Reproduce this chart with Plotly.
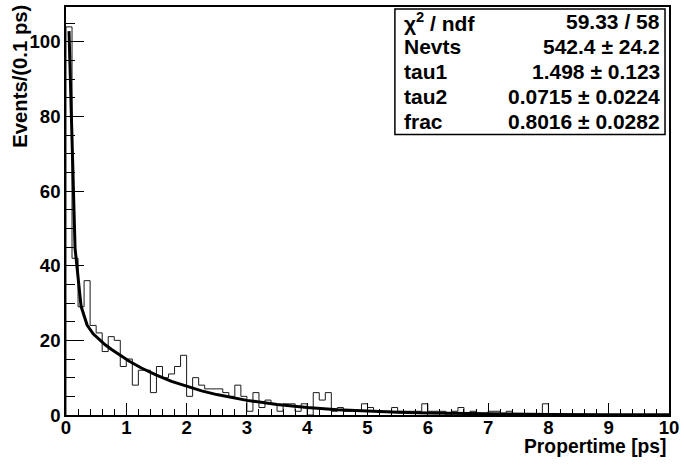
import numpy as np
import plotly.graph_objects as go

# ---- data ----
bin_width = 0.1
n_bins = 100
counts = [104, 42, 29, 36, 24, 22, 17, 21, 20, 13,
          15, 8, 12, 12, 6, 13, 10, 11, 13, 16,
          5, 10, 8, 7, 7, 7, 6, 5, 8, 5,
          1, 6, 2, 4, 3, 1, 3, 3, 1, 3,
          0, 6, 4, 6, 1, 2, 1, 1, 1, 3,
          2, 1, 1, 1, 2, 1, 1, 1, 1, 3,
          1, 1, 1, 0, 1, 2, 0, 1, 0, 0,
          1, 1, 0, 1, 0, 0, 0, 0, 0, 3,
          0, 0, 0, 0, 0, 0, 0, 0, 0, 0,
          0, 0, 0, 0, 0, 0, 0, 0, 0, 0]

fit_t = [0.05, 0.15, 0.25, 0.35, 0.45, 0.55, 0.65, 0.75, 0.85, 0.95,
         1.05, 1.25, 1.5, 1.75, 2.0, 2.25, 2.5, 2.75, 3.0, 3.5,
         4.0, 4.5, 5.0, 5.5, 6.0, 7.0, 8.0, 9.0, 10.0]
fit_y = [102.86, 44.73, 29.12, 24.10, 21.77, 20.17, 18.82, 17.60, 16.46, 15.39,
         14.40, 12.60, 10.66, 9.02, 7.64, 6.46, 5.47, 4.63, 3.92, 2.81,
         2.01, 1.44, 1.03, 0.738, 0.529, 0.271, 0.139, 0.0714, 0.0366]

stat_labels = ["\u03c7<sup>2</sup> / ndf", "Nevts", "tau1", "tau2", "frac"]
stat_values = ["59.33 / 58", "542.4 \u00b1 24.2", "1.498 \u00b1 0.123",
               "0.0715 \u00b1 0.0224", "0.8016 \u00b1 0.0282"]

x_title = "Propertime [ps]"
y_title = "Events/(0.1 ps)"

# ---- layout geometry (pixels) ----
W, H = 684, 466
L, R, T, B = 66, 13, 5, 51
PW, PH = W - L - R, H - T - B
def px(x):
    return (x - L) / PW
def py(y):
    return (T + PH - y) / PH

FONT = "Liberation Sans, Arial, Helvetica, sans-serif"
FS = 18.6

edges = list(np.round(np.arange(n_bins) * bin_width, 10))
hx = [0.0] + edges + [n_bins * bin_width]
hy = [0] + counts + [0]

fig = go.Figure()
fig.add_trace(go.Scatter(x=hx, y=hy, mode="lines", line=dict(shape="hv", color="#1a1a1a", width=1),
                         hoverinfo="skip", showlegend=False))
fig.add_trace(go.Scatter(x=fit_t, y=fit_y, mode="lines", line=dict(color="black", width=3),
                         hoverinfo="skip", showlegend=False))

axfont = dict(family=FONT, size=FS, color="black", weight="bold")
fig.update_layout(
    width=W, height=H, margin=dict(l=L, r=R, t=T, b=B, pad=0),
    paper_bgcolor="white", plot_bgcolor="white", showlegend=False,
    xaxis=dict(range=[0, 10], tickmode="linear", tick0=0, dtick=1, ticks="inside", ticklen=12,
               tickwidth=1, tickcolor="black", showgrid=False, zeroline=False,
               showline=True, linecolor="black", linewidth=1.5, mirror=True,
               tickfont=axfont, ticklabelstandoff=-5,
               minor=dict(dtick=0.2, tick0=0, ticks="inside", ticklen=6, tickwidth=1,
                          tickcolor="black", showgrid=False)),
    yaxis=dict(range=[0, PH / 3.75], tickmode="linear", tick0=0, dtick=20, ticks="inside", ticklen=18,
               tickwidth=1, tickcolor="black", showgrid=False, zeroline=False,
               showline=True, linecolor="black", linewidth=1.5, mirror=True,
               tickfont=axfont,
               minor=dict(dtick=5, tick0=0, ticks="inside", ticklen=9, tickwidth=1,
                          tickcolor="black", showgrid=False)),
)

# axis titles
fig.add_annotation(text=x_title, xref="paper", yref="paper", x=1.0, y=py(446.5),
                   xanchor="right", yanchor="middle", showarrow=False,
                   font=dict(family=FONT, size=19.3, color="black", weight="bold"))
fig.add_annotation(text=y_title, xref="paper", yref="paper", x=px(20), y=py(75),
                   xanchor="center", yanchor="middle", textangle=-90, showarrow=False,
                   font=dict(family=FONT, size=20.3, color="black", weight="bold"))

# stats box (lines spread evenly over the box height)
box_top, box_bot = 7, 133
fig.add_shape(type="rect", xref="paper", yref="paper", x0=px(396), x1=px(667), y0=py(box_bot), y1=py(box_top),
              line=dict(color="black", width=1.5), fillcolor="white", layer="above")
dy = (box_bot - box_top) / len(stat_labels)
stfont = dict(family=FONT, size=21, color="black", weight="bold")
for i, (lab, val) in enumerate(zip(stat_labels, stat_values)):
    yy = box_top + (i + 0.5) * dy
    fig.add_annotation(text=lab, xref="paper", yref="paper", x=px(403), y=py(yy),
                       xanchor="left", yanchor="middle", showarrow=False, font=stfont)
    fig.add_annotation(text=val, xref="paper", yref="paper", x=px(664), y=py(yy),
                       xanchor="right", yanchor="middle", showarrow=False, font=stfont)

fig.write_html("out.html")
